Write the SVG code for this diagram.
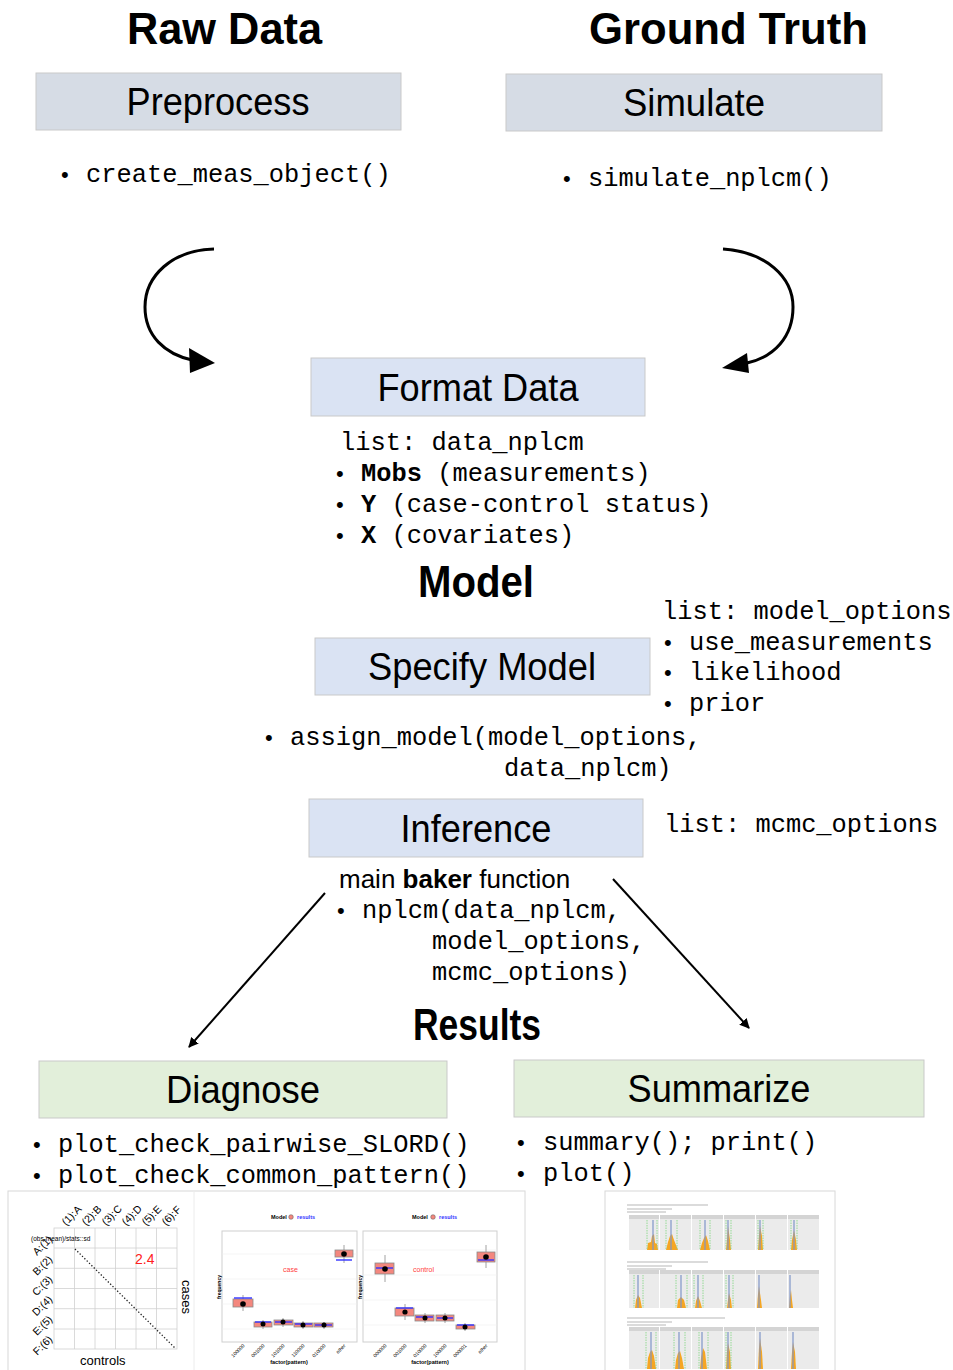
<svg xmlns="http://www.w3.org/2000/svg" width="953" height="1370" viewBox="0 0 953 1370">
<defs>
<style>
.h{font-family:"Liberation Sans",Arial,sans-serif;font-weight:bold;font-size:44px;fill:#000}
.bl{font-family:"Liberation Sans",Arial,sans-serif;font-size:38px;fill:#000;text-anchor:middle}
.m{font-family:"Liberation Mono","Courier New",monospace;font-size:25.4px;fill:#000}
.b{font-family:"Liberation Sans",Arial,sans-serif;font-size:22px;fill:#000}
.s{font-family:"Liberation Sans",Arial,sans-serif;font-size:26px;fill:#000}
.bx1{fill:#d6dce5;stroke:#c9c9c9;stroke-width:1}
.bx2{fill:#dae3f3;stroke:#c9c9c9;stroke-width:1}
.bx3{fill:#e2efda;stroke:#c9c9c9;stroke-width:1}
.con{fill:none;stroke:#000}
.t{font-family:"Liberation Sans",Arial,sans-serif;fill:#000}
.grid{stroke:#d0d0d0;stroke-width:0.8;fill:none}
.bp{fill:#f4877e;stroke:#8a8a8a;stroke-width:0.8}
.whisk{stroke:#8a8a8a;stroke-width:0.8}
.blu{stroke:#3333ff;stroke-width:1.4}
.fac{fill:#ebebeb}
.strip{fill:#d4d4d4}
.hist{fill:#f5a623}
.vb{stroke:#7f95c8;stroke-width:1.2}
.vg{stroke:#7fd67f;stroke-width:0.8;stroke-dasharray:1.5,1}
.blur{stroke:#b8b8b8;stroke-width:1.2}
</style>
<marker id="ah" markerWidth="10" markerHeight="10" refX="9" refY="5" orient="auto" markerUnits="userSpaceOnUse">
<path d="M0,0 L10,5 L0,10 z" fill="#000"/>
</marker>
</defs>
<rect width="953" height="1370" fill="#fff"/>

<text class="h" x="127" y="44" textLength="195" lengthAdjust="spacingAndGlyphs">Raw Data</text>
<text class="h" x="589" y="44" textLength="279" lengthAdjust="spacingAndGlyphs">Ground Truth</text>

<g id="preprocess">
<rect class="bx1" x="36" y="73" width="365" height="57"/>
<text class="bl" x="218" y="115" textLength="183" lengthAdjust="spacingAndGlyphs">Preprocess</text>
<text class="b" x="61" y="182">•</text>
<text class="m" x="86" y="182">create_meas_object()</text>
</g>

<g id="simulate">
<rect class="bx1" x="506" y="74" width="376" height="57"/>
<text class="bl" x="694" y="116" textLength="142" lengthAdjust="spacingAndGlyphs">Simulate</text>
<text class="b" x="563" y="186">•</text>
<text class="m" x="588" y="186">simulate_nplcm()</text>
</g>

<g id="format-data">
<rect class="bx2" x="311" y="358" width="334" height="58"/>
<text class="bl" x="478" y="401" textLength="201" lengthAdjust="spacingAndGlyphs">Format Data</text>
<text class="m" x="340" y="450">list: data_nplcm</text>
<text class="b" x="336" y="481">•</text>
<text class="m" x="361" y="481"><tspan font-weight="bold">Mobs</tspan> (measurements)</text>
<text class="b" x="336" y="512">•</text>
<text class="m" x="361" y="512"><tspan font-weight="bold">Y</tspan> (case-control status)</text>
<text class="b" x="336" y="543">•</text>
<text class="m" x="361" y="543"><tspan font-weight="bold">X</tspan> (covariates)</text>
</g>

<text class="h" x="418" y="597" textLength="116" lengthAdjust="spacingAndGlyphs">Model</text>

<g id="specify-model">
<rect class="bx2" x="315" y="638" width="335" height="57"/>
<text class="bl" x="482" y="680" textLength="228" lengthAdjust="spacingAndGlyphs">Specify Model</text>
<text class="m" x="662" y="619">list: model_options</text>
<text class="b" x="664" y="650">•</text>
<text class="m" x="689" y="650">use_measurements</text>
<text class="b" x="664" y="680">•</text>
<text class="m" x="689" y="680">likelihood</text>
<text class="b" x="664" y="711">•</text>
<text class="m" x="689" y="711">prior</text>
<text class="b" x="265" y="745">•</text>
<text class="m" x="290" y="745">assign_model(model_options,</text>
<text class="m" x="504" y="776">data_nplcm)</text>
</g>

<g id="inference">
<rect class="bx2" x="309" y="799" width="334" height="58"/>
<text class="bl" x="476" y="842" textLength="151" lengthAdjust="spacingAndGlyphs">Inference</text>
<text class="m" x="664" y="832">list: mcmc_options</text>
<text class="s" x="339" y="888">main <tspan font-weight="bold">baker</tspan> function</text>
<text class="b" x="337" y="918">•</text>
<text class="m" x="362" y="918">nplcm(data_nplcm,</text>
<text class="m" x="432" y="949">model_options,</text>
<text class="m" x="432" y="980">mcmc_options)</text>
</g>

<text class="h" x="413" y="1040" textLength="128" lengthAdjust="spacingAndGlyphs">Results</text>

<g id="diagnose">
<rect class="bx3" x="39" y="1061" width="408" height="57"/>
<text class="bl" x="243" y="1103" textLength="154" lengthAdjust="spacingAndGlyphs">Diagnose</text>
<text class="b" x="33" y="1152">•</text>
<text class="m" x="58" y="1152">plot_check_pairwise_SLORD()</text>
<text class="b" x="33" y="1183">•</text>
<text class="m" x="58" y="1183">plot_check_common_pattern()</text>
</g>

<g id="summarize">
<rect class="bx3" x="514" y="1060" width="410" height="57"/>
<text class="bl" x="719" y="1102" textLength="183" lengthAdjust="spacingAndGlyphs">Summarize</text>
<text class="b" x="517" y="1150">•</text>
<text class="m" x="543" y="1150">summary(); print()</text>
<text class="b" x="517" y="1181">•</text>
<text class="m" x="543" y="1181">plot()</text>
</g>

<g id="connectors">
<path class="con" stroke-width="3" d="M214,249 C172,250 145,276 145,307 C145,336 165,354 192,360"/>
<polygon points="189,348 215,363 190,373" fill="#000"/>
<path class="con" stroke-width="3" d="M723,249 C766,252 793,277 793,307 C793,337 774,357 747,363"/>
<polygon points="747,353 722,368 749,373" fill="#000"/>
<line class="con" stroke-width="2" x1="325" y1="893" x2="189" y2="1047" marker-end="url(#ah)"/>
<line class="con" stroke-width="2" x1="613" y1="879" x2="749" y2="1028" marker-end="url(#ah)"/>
</g>

<g id="diagnose-plots">
<rect x="8" y="1191" width="517" height="181" fill="#fff" stroke="#d8d8d8"/>
<line x1="194" y1="1191" x2="194" y2="1370" stroke="#ececec"/>
<g class="grid">
<rect x="54" y="1228" width="123" height="121"/>
<line x1="74.5" y1="1228" x2="74.5" y2="1349"/><line x1="95" y1="1228" x2="95" y2="1349"/><line x1="115.5" y1="1228" x2="115.5" y2="1349"/><line x1="136" y1="1228" x2="136" y2="1349"/><line x1="156.5" y1="1228" x2="156.5" y2="1349"/>
<line x1="54" y1="1248" x2="177" y2="1248"/><line x1="54" y1="1268.3" x2="177" y2="1268.3"/><line x1="54" y1="1288.5" x2="177" y2="1288.5"/><line x1="54" y1="1308.7" x2="177" y2="1308.7"/><line x1="54" y1="1329" x2="177" y2="1329"/>
</g>
<line x1="75" y1="1249" x2="175" y2="1348" stroke="#222" stroke-width="1.3" stroke-dasharray="1.3,2"/>
<g class="t" font-size="10.5">
<text transform="translate(66,1226) rotate(-45)">(1):A</text>
<text transform="translate(86,1226) rotate(-45)">(2):B</text>
<text transform="translate(106,1226) rotate(-45)">(3):C</text>
<text transform="translate(126,1226) rotate(-45)">(4):D</text>
<text transform="translate(146,1226) rotate(-45)">(5):E</text>
<text transform="translate(166,1226) rotate(-45)">(6):F</text>
<text text-anchor="end" transform="translate(53,1240) rotate(-45)">A:(1)</text>
<text text-anchor="end" transform="translate(53,1260) rotate(-45)">B:(2)</text>
<text text-anchor="end" transform="translate(53,1280) rotate(-45)">C:(3)</text>
<text text-anchor="end" transform="translate(53,1300) rotate(-45)">D:(4)</text>
<text text-anchor="end" transform="translate(53,1320) rotate(-45)">E:(5)</text>
<text text-anchor="end" transform="translate(53,1340) rotate(-45)">F:(6)</text>
</g>
<text class="t" x="31" y="1241" font-size="6.5">(obs-mean)/stats::sd</text>
<text class="t" x="135" y="1264" font-size="14" style="fill:#ff2020">2.4</text>
<text class="t" font-size="13" transform="translate(182,1280) rotate(90)">cases</text>
<text class="t" x="80" y="1365" font-size="13">controls</text>

<text class="t" x="271" y="1219" font-size="5.5" font-weight="bold">Model</text>
<circle cx="291" cy="1217" r="2.3" fill="#f4877e" stroke="#555" stroke-width="0.5"/>
<text class="t" x="297" y="1219" font-size="5.5" font-weight="bold" style="fill:#3333ff">results</text>
<rect x="222" y="1231" width="135" height="111" fill="#fff" stroke="#cfcfcf"/>
<g stroke="#eeeeee" stroke-width="0.6">
<line x1="222" y1="1254" x2="357" y2="1254"/><line x1="222" y1="1279" x2="357" y2="1279"/><line x1="222" y1="1304" x2="357" y2="1304"/><line x1="222" y1="1329" x2="357" y2="1329"/>
</g>
<g>
<line class="whisk" x1="243" y1="1295" x2="243" y2="1311"/><rect class="bp" x="233" y="1299" width="20" height="8"/><line class="blu" x1="234" y1="1298" x2="252" y2="1298"/><circle cx="243" cy="1304" r="2.8"/>
<line class="whisk" x1="263" y1="1320" x2="263" y2="1329"/><rect class="bp" x="254" y="1322" width="18" height="5"/><line class="blu" x1="255" y1="1322" x2="271" y2="1322"/><circle cx="263" cy="1324" r="2.5"/>
<line class="whisk" x1="283" y1="1318" x2="283" y2="1327"/><rect class="bp" x="274" y="1320" width="19" height="5"/><line class="blu" x1="275" y1="1322" x2="292" y2="1322"/><circle cx="283" cy="1322" r="2.5"/>
<line class="whisk" x1="303" y1="1321" x2="303" y2="1329"/><rect class="bp" x="294" y="1323" width="19" height="4"/><line class="blu" x1="295" y1="1324" x2="312" y2="1324"/><circle cx="303" cy="1325" r="2.5"/>
<line class="whisk" x1="324" y1="1322" x2="324" y2="1329"/><rect class="bp" x="314" y="1323" width="19" height="4"/><line class="blu" x1="315" y1="1325" x2="332" y2="1325"/><circle cx="324" cy="1325" r="2.5"/>
<line class="whisk" x1="344" y1="1245" x2="344" y2="1263"/><rect class="bp" x="335" y="1250" width="18" height="7"/><line class="blu" x1="336" y1="1260" x2="352" y2="1260"/><circle cx="344" cy="1254" r="2.8"/>
</g>
<text class="t" x="283" y="1272" font-size="7" style="fill:#ff4040">case</text>
<g class="t" font-size="5" text-anchor="end">
<text transform="translate(245,1346) rotate(-45)">100000</text>
<text transform="translate(265,1346) rotate(-45)">001000</text>
<text transform="translate(285,1346) rotate(-45)">101000</text>
<text transform="translate(305,1346) rotate(-45)">110000</text>
<text transform="translate(326,1346) rotate(-45)">010000</text>
<text transform="translate(346,1346) rotate(-45)">other</text>
</g>
<text class="t" x="289" y="1364" font-size="5.5" font-weight="bold" text-anchor="middle">factor(pattern)</text>
<text class="t" font-size="5" font-weight="bold" text-anchor="middle" transform="translate(221,1287) rotate(-90)">frequency</text>

<text class="t" x="412" y="1219" font-size="5.5" font-weight="bold">Model</text>
<circle cx="433" cy="1217" r="2.3" fill="#f4877e" stroke="#555" stroke-width="0.5"/>
<text class="t" x="439" y="1219" font-size="5.5" font-weight="bold" style="fill:#3333ff">results</text>
<rect x="363" y="1231" width="134" height="111" fill="#fff" stroke="#cfcfcf"/>
<g stroke="#eeeeee" stroke-width="0.6">
<line x1="363" y1="1250" x2="497" y2="1250"/><line x1="363" y1="1275" x2="497" y2="1275"/><line x1="363" y1="1300" x2="497" y2="1300"/><line x1="363" y1="1325" x2="497" y2="1325"/>
</g>
<g>
<line class="whisk" x1="385" y1="1255" x2="385" y2="1282"/><rect class="bp" x="375" y="1263" width="19" height="11"/><line class="blu" x1="376" y1="1268" x2="393" y2="1268"/><circle cx="385" cy="1269" r="2.8"/>
<line class="whisk" x1="405" y1="1304" x2="405" y2="1320"/><rect class="bp" x="395" y="1308" width="19" height="8"/><line class="blu" x1="396" y1="1308" x2="413" y2="1308"/><circle cx="405" cy="1312" r="2.6"/>
<line class="whisk" x1="425" y1="1313" x2="425" y2="1323"/><rect class="bp" x="415" y="1315" width="19" height="6"/><line class="blu" x1="416" y1="1317" x2="433" y2="1317"/><circle cx="425" cy="1318" r="2.5"/>
<line class="whisk" x1="445" y1="1313" x2="445" y2="1323"/><rect class="bp" x="436" y="1315" width="18" height="6"/><line class="blu" x1="437" y1="1318" x2="453" y2="1318"/><circle cx="445" cy="1318" r="2.5"/>
<line class="whisk" x1="465" y1="1323" x2="465" y2="1331"/><rect class="bp" x="456" y="1325" width="19" height="4"/><line class="blu" x1="457" y1="1325" x2="474" y2="1325"/><circle cx="465" cy="1327" r="2.5"/>
<line class="whisk" x1="486" y1="1245" x2="486" y2="1268"/><rect class="bp" x="477" y="1252" width="18" height="10"/><line class="blu" x1="478" y1="1260" x2="494" y2="1260"/><circle cx="486" cy="1257" r="2.8"/>
</g>
<text class="t" x="413" y="1272" font-size="7" style="fill:#ff4040">control</text>
<g class="t" font-size="5" text-anchor="end">
<text transform="translate(387,1346) rotate(-45)">000000</text>
<text transform="translate(407,1346) rotate(-45)">001000</text>
<text transform="translate(427,1346) rotate(-45)">010000</text>
<text transform="translate(447,1346) rotate(-45)">100000</text>
<text transform="translate(467,1346) rotate(-45)">000001</text>
<text transform="translate(488,1346) rotate(-45)">other</text>
</g>
<text class="t" x="430" y="1364" font-size="5.5" font-weight="bold" text-anchor="middle">factor(pattern)</text>
<text class="t" font-size="5" font-weight="bold" text-anchor="middle" transform="translate(362,1287) rotate(-90)">frequency</text>
</g>

<g id="summarize-plots">
<rect x="605" y="1191" width="230" height="181" fill="#fff" stroke="#d8d8d8"/>
<g class="blur">
<line x1="627" y1="1205" x2="708" y2="1205"/><line x1="627" y1="1209" x2="672" y2="1209"/><line x1="627" y1="1212" x2="666" y2="1212"/>
<line x1="627" y1="1262" x2="708" y2="1262"/><line x1="627" y1="1266" x2="672" y2="1266"/><line x1="627" y1="1269" x2="666" y2="1269"/>
<line x1="627" y1="1318" x2="725" y2="1318"/><line x1="627" y1="1322" x2="672" y2="1322"/><line x1="627" y1="1325" x2="666" y2="1325"/>
</g>
<g>
<rect class="strip" x="629" y="1215" width="30" height="4"/><rect class="strip" x="660" y="1215" width="31" height="4"/><rect class="strip" x="692" y="1215" width="31" height="4"/><rect class="strip" x="724" y="1215" width="31" height="4"/><rect class="strip" x="756" y="1215" width="31" height="4"/><rect class="strip" x="788" y="1215" width="31" height="4"/>
<rect class="fac" x="629" y="1219" width="30" height="31"/><rect class="fac" x="660" y="1219" width="31" height="31"/><rect class="fac" x="692" y="1219" width="31" height="31"/><rect class="fac" x="724" y="1219" width="31" height="31"/><rect class="fac" x="756" y="1219" width="31" height="31"/><rect class="fac" x="788" y="1219" width="31" height="31"/>
<polygon class="hist" points="647,1250 648,1243 651,1242 652,1236 654,1234 655,1243 657,1244 658,1250"/>
<polygon class="hist" points="666,1250 668,1242 670,1236 672,1234 674,1240 676,1245 678,1250"/>
<polygon class="hist" points="700,1250 702,1243 704,1238 706,1235 708,1241 710,1250"/>
<polygon class="hist" points="726,1250 727,1240 728,1226 730,1240 731,1250"/>
<polygon class="hist" points="758,1250 759,1236 760,1226 762,1236 763,1250"/>
<polygon class="hist" points="791,1250 792,1240 794,1230 796,1240 797,1250"/>
<line class="vb" x1="653" y1="1220" x2="653" y2="1250"/><line class="vb" x1="671" y1="1220" x2="671" y2="1250"/><line class="vb" x1="705" y1="1220" x2="705" y2="1250"/><line class="vb" x1="728" y1="1220" x2="728" y2="1250"/><line class="vb" x1="760" y1="1220" x2="760" y2="1250"/><line class="vb" x1="794" y1="1220" x2="794" y2="1250"/>
<line class="vg" x1="647" y1="1220" x2="647" y2="1250"/><line class="vg" x1="657" y1="1220" x2="657" y2="1250"/><line class="vg" x1="666" y1="1220" x2="666" y2="1250"/><line class="vg" x1="677" y1="1220" x2="677" y2="1250"/><line class="vg" x1="700" y1="1220" x2="700" y2="1250"/><line class="vg" x1="710" y1="1220" x2="710" y2="1250"/><line class="vg" x1="726" y1="1220" x2="726" y2="1250"/><line class="vg" x1="731" y1="1220" x2="731" y2="1250"/><line class="vg" x1="758" y1="1220" x2="758" y2="1250"/><line class="vg" x1="763" y1="1220" x2="763" y2="1250"/><line class="vg" x1="791" y1="1220" x2="791" y2="1250"/><line class="vg" x1="797" y1="1220" x2="797" y2="1250"/>
</g>
<g>
<rect class="strip" x="629" y="1270" width="30" height="4"/><rect class="strip" x="660" y="1270" width="31" height="4"/><rect class="strip" x="692" y="1270" width="31" height="4"/><rect class="strip" x="724" y="1270" width="31" height="4"/><rect class="strip" x="756" y="1270" width="31" height="4"/><rect class="strip" x="788" y="1270" width="31" height="4"/>
<rect class="fac" x="629" y="1274" width="30" height="34"/><rect class="fac" x="660" y="1274" width="31" height="34"/><rect class="fac" x="692" y="1274" width="31" height="34"/><rect class="fac" x="724" y="1274" width="31" height="34"/><rect class="fac" x="756" y="1274" width="31" height="34"/><rect class="fac" x="788" y="1274" width="31" height="34"/>
<polygon class="hist" points="635,1308 636,1300 638,1295 640,1298 642,1308"/>
<polygon class="hist" points="677,1308 678,1300 681,1297 684,1300 686,1308"/>
<polygon class="hist" points="695,1308 696,1301 698,1296 700,1301 702,1308"/>
<polygon class="hist" points="727,1308 728,1300 729,1293 731,1300 732,1308"/>
<polygon class="hist" points="757,1308 758,1294 759,1286 761,1300 762,1308"/>
<polygon class="hist" points="789,1308 790,1296 791,1290 792,1300 793,1308"/>
<line class="vb" x1="638" y1="1275" x2="638" y2="1308"/><line class="vb" x1="681" y1="1275" x2="681" y2="1308"/><line class="vb" x1="698" y1="1275" x2="698" y2="1308"/><line class="vb" x1="729" y1="1275" x2="729" y2="1308"/><line class="vb" x1="759" y1="1275" x2="759" y2="1308"/><line class="vb" x1="790" y1="1275" x2="790" y2="1308"/>
<line class="vg" x1="634" y1="1275" x2="634" y2="1308"/><line class="vg" x1="643" y1="1275" x2="643" y2="1308"/><line class="vg" x1="676" y1="1275" x2="676" y2="1308"/><line class="vg" x1="687" y1="1275" x2="687" y2="1308"/><line class="vg" x1="694" y1="1275" x2="694" y2="1308"/><line class="vg" x1="703" y1="1275" x2="703" y2="1308"/><line class="vg" x1="726" y1="1275" x2="726" y2="1308"/><line class="vg" x1="733" y1="1275" x2="733" y2="1308"/>
</g>
<g>
<rect class="strip" x="629" y="1327" width="30" height="4"/><rect class="strip" x="660" y="1327" width="31" height="4"/><rect class="strip" x="692" y="1327" width="31" height="4"/><rect class="strip" x="724" y="1327" width="31" height="4"/><rect class="strip" x="756" y="1327" width="31" height="4"/><rect class="strip" x="788" y="1327" width="31" height="4"/>
<rect class="fac" x="629" y="1331" width="30" height="38"/><rect class="fac" x="660" y="1331" width="31" height="38"/><rect class="fac" x="692" y="1331" width="31" height="38"/><rect class="fac" x="724" y="1331" width="31" height="38"/><rect class="fac" x="756" y="1331" width="31" height="38"/><rect class="fac" x="788" y="1331" width="31" height="38"/>
<polygon class="hist" points="647,1369 648,1358 650,1352 652,1350 654,1356 656,1369"/>
<polygon class="hist" points="675,1369 676,1360 678,1353 680,1351 682,1358 684,1369"/>
<polygon class="hist" points="700,1369 701,1358 703,1348 705,1352 707,1369"/>
<polygon class="hist" points="726,1369 727,1352 728,1343 730,1352 731,1369"/>
<polygon class="hist" points="758,1369 759,1348 760,1338 762,1352 763,1369"/>
<polygon class="hist" points="791,1369 792,1352 793,1342 795,1352 796,1369"/>
<line class="vb" x1="651" y1="1332" x2="651" y2="1369"/><line class="vb" x1="679" y1="1332" x2="679" y2="1369"/><line class="vb" x1="702" y1="1332" x2="702" y2="1369"/><line class="vb" x1="728" y1="1332" x2="728" y2="1369"/><line class="vb" x1="760" y1="1332" x2="760" y2="1369"/><line class="vb" x1="793" y1="1332" x2="793" y2="1369"/>
<line class="vg" x1="646" y1="1332" x2="646" y2="1369"/><line class="vg" x1="656" y1="1332" x2="656" y2="1369"/><line class="vg" x1="674" y1="1332" x2="674" y2="1369"/><line class="vg" x1="685" y1="1332" x2="685" y2="1369"/><line class="vg" x1="699" y1="1332" x2="699" y2="1369"/><line class="vg" x1="708" y1="1332" x2="708" y2="1369"/><line class="vg" x1="726" y1="1332" x2="726" y2="1369"/><line class="vg" x1="731" y1="1332" x2="731" y2="1369"/>
</g>
</g>
</svg>
